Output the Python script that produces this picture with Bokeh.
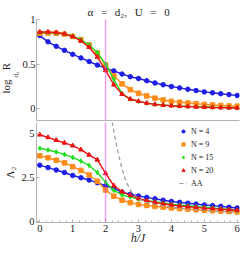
from bokeh.plotting import figure
from bokeh.models import Range1d, Span, Legend, LegendItem, FixedTicker, Title
from bokeh.layouts import column
from bokeh.embed import file_html
from bokeh.resources import INLINE

# ---------------- data ----------------
h = [0.0, 0.25, 0.5, 0.75, 1.0, 1.25, 1.5, 1.75, 2.0, 2.25, 2.5, 2.75, 3.0,
     3.25, 3.5, 3.75, 4.0, 4.25, 4.5, 4.75, 5.0, 5.25, 5.5, 5.75, 6.0]

# top panel: log_{d2} R
R_N4 = [0.82, 0.75, 0.70, 0.655, 0.61, 0.57, 0.53, 0.49, 0.455, 0.425, 0.39, 0.36, 0.34,
        0.315, 0.29, 0.27, 0.25, 0.235, 0.22, 0.205, 0.19, 0.18, 0.17, 0.16, 0.15]
R_N9 = [0.845, 0.848, 0.845, 0.835, 0.81, 0.775, 0.715, 0.625, 0.49, 0.37, 0.28, 0.215, 0.175,
        0.145, 0.12, 0.10, 0.085, 0.075, 0.065, 0.057, 0.05, 0.044, 0.038, 0.033, 0.03]
R_N15 = [0.855, 0.855, 0.85, 0.84, 0.815, 0.775, 0.715, 0.63, 0.50, 0.33, 0.17, 0.11, 0.085,
         0.065, 0.052, 0.044, 0.037, 0.032, 0.028, 0.025, 0.022, 0.019, 0.017, 0.015, 0.013]
R_N20 = [0.86, 0.86, 0.855, 0.84, 0.81, 0.76, 0.69, 0.58, 0.43, 0.27, 0.165, 0.11, 0.085,
         0.065, 0.05, 0.042, 0.035, 0.03, 0.026, 0.022, 0.019, 0.016, 0.014, 0.012, 0.01]

# bottom panel: Lambda_2
L_N4 = [3.22, 3.08, 2.94, 2.8, 2.63, 2.5, 2.37, 2.22, 2.04, 1.88, 1.68, 1.56, 1.46,
        1.38, 1.3, 1.22, 1.15, 1.1, 1.05, 1.0, 0.95, 0.91, 0.87, 0.82, 0.78]
L_N9 = [3.75, 3.64, 3.5, 3.35, 3.13, 2.92, 2.66, 2.3, 1.8, 1.45, 1.22, 1.08, 0.98,
        0.92, 0.87, 0.82, 0.78, 0.74, 0.71, 0.68, 0.65, 0.62, 0.6, 0.57, 0.55]
L_N15 = [4.18, 4.08, 3.97, 3.83, 3.66, 3.45, 3.2, 2.8, 2.25, 1.78, 1.52, 1.4, 1.28,
         1.2, 1.13, 1.06, 1.0, 0.95, 0.91, 0.86, 0.82, 0.78, 0.74, 0.69, 0.65]
L_N20 = [4.95, 4.8, 4.64, 4.49, 4.33, 4.1, 3.8, 3.52, 2.75, 2.05, 1.7, 1.5, 1.32,
         1.2, 1.1, 1.02, 0.95, 0.9, 0.85, 0.81, 0.77, 0.74, 0.71, 0.68, 0.65]

h_AA = [2.2, 2.25, 2.3, 2.35, 2.4, 2.5, 2.6, 2.7, 2.8, 3.0, 3.25, 3.5, 4.0, 4.5, 5.0, 5.5, 6.0]
L_AA = [5.68, 5.15, 4.67, 4.2, 3.78, 3.0, 2.42, 1.98, 1.65, 1.3, 1.1, 0.98, 0.82, 0.72, 0.64, 0.58, 0.53]

critical_h = 2.0
x_ticks = [0, 1, 2, 3, 4, 5, 6]
x_minor = [0.2 * i for i in range(31)]
top_ticks = [0, 0.5, 1]
bottom_ticks = [0, 2.5, 5]
series_names = ["N = 4", "N = 9", "N = 15", "N = 20"]

# ---------------- style ----------------
FONT = "Liberation Serif"
COLORS = ["#1e1ee6", "#ff8c1a", "#1ee01e", "#ee1111"]
MARKERS = ["circle", "square", "diamond", "triangle"]
AXIS_C = "#b4b4b4"
TEXT_C = "#222222"
MAGENTA = "#f030f0"


def style(p):
    p.outline_line_color = None
    p.xgrid.grid_line_color = None
    p.ygrid.grid_line_color = None
    for ax in (p.xaxis[0], p.yaxis[0]):
        ax.axis_line_color = AXIS_C
        ax.major_tick_line_color = AXIS_C
        ax.minor_tick_line_color = AXIS_C
        ax.major_tick_in = 3
        ax.major_tick_out = 0
        ax.minor_tick_in = 2
        ax.minor_tick_out = 0
        ax.major_label_text_font = FONT
        ax.major_label_text_font_size = "10.5px"
        ax.major_label_text_color = TEXT_C
        ax.major_label_standoff = 2


x_range = Range1d(-0.1, 6.07)

p1 = figure(width=241, height=122, x_range=x_range, y_range=Range1d(-0.13, 1.0),
            output_backend="svg", toolbar_location=None,
            min_border_left=35, min_border_right=2, min_border_top=19, min_border_bottom=2)
style(p1)
p1.xaxis.ticker = FixedTicker(ticks=[], minor_ticks=[])
p1.xaxis.major_label_standoff = 0
p1.yaxis.ticker = FixedTicker(ticks=top_ticks, minor_ticks=[])
p1.yaxis.major_label_standoff = 1
p1.title.text = "\u03b1\u2002\u2009=\u2002\u2009d\u2082,\u2002\u2009U\u2002\u2009=\u2002\u20090"
p1.title.align = "left"
p1.title.offset = 51
p1.title.text_font = FONT
p1.title.text_font_size = "11px"
p1.title.text_font_style = "normal"
p1.title.text_color = TEXT_C
p1.title.vertical_align = "top"
p1.title.standoff = 0

# y-axis label "log_{d2} R": subscript piece next to the axis, main piece outside
p1.add_layout(Title(text="d\u2082", align="left", offset=43, standoff=0,
                    text_font=FONT, text_font_size="7px", text_font_style="normal",
                    text_color=TEXT_C), "left")
p1.add_layout(Title(text="log\u2002\u2004R", align="left", offset=27, standoff=-5,
                    text_font=FONT, text_font_size="11px", text_font_style="normal",
                    text_color=TEXT_C), "left")

for ys, c, m in zip([R_N4, R_N9, R_N15, R_N20], COLORS, MARKERS):
    p1.line(h, ys, line_color=c, line_width=1.4)
    p1.scatter(h, ys, marker=m, size=4.5, fill_color=c, line_color=c)
p1.add_layout(Span(location=critical_h, dimension="height", line_color=MAGENTA,
                   line_dash="1 1", line_width=1.4))

p2 = figure(width=241, height=130, x_range=x_range, y_range=Range1d(-0.05, 5.65),
            output_backend="svg", toolbar_location=None,
            min_border_left=35, min_border_right=2, min_border_top=0, min_border_bottom=30)
style(p2)
p2.xaxis.ticker = FixedTicker(ticks=x_ticks, minor_ticks=x_minor)
p2.yaxis.ticker = FixedTicker(ticks=bottom_ticks, minor_ticks=[])
p2.xaxis.axis_label = "h/J"
p2.xaxis.axis_label_text_font = FONT
p2.xaxis.axis_label_text_font_style = "italic"
p2.xaxis.axis_label_text_font_size = "11.5px"
p2.xaxis.axis_label_text_color = TEXT_C
p2.xaxis.axis_label_standoff = -3
p2.yaxis.axis_label = "\u039b\u2082"
p2.yaxis.axis_label_text_font = FONT
p2.yaxis.axis_label_text_font_style = "normal"
p2.yaxis.axis_label_text_font_size = "11px"
p2.yaxis.axis_label_text_color = TEXT_C
p2.yaxis.axis_label_standoff = 2

items = []
for ys, c, m, name in zip([L_N4, L_N9, L_N15, L_N20], COLORS, MARKERS, series_names):
    p2.line(h, ys, line_color=c, line_width=1.4)
    r = p2.scatter(h, ys, marker=m, size=4.5, fill_color=c, line_color=c)
    items.append(LegendItem(label=name, renderers=[r]))
aa = p2.line(h_AA, L_AA, line_color="#999999", line_width=1.2, line_dash="4 3")
items.append(LegendItem(label="AA", renderers=[aa]))
p2.add_layout(Span(location=critical_h, dimension="height", line_color=MAGENTA,
                   line_dash="1 1", line_width=1.4))

legend = Legend(items=items, location=(143, 34), background_fill_alpha=0,
                border_line_color=None, label_text_font=FONT, label_text_font_size="8px",
                label_text_color=TEXT_C, glyph_width=8, glyph_height=8, label_standoff=4,
                spacing=3, padding=0, margin=0, label_height=10)
p2.add_layout(legend)

layout = column(p1, p2)
open("out.html", "w").write(file_html(layout, INLINE))
